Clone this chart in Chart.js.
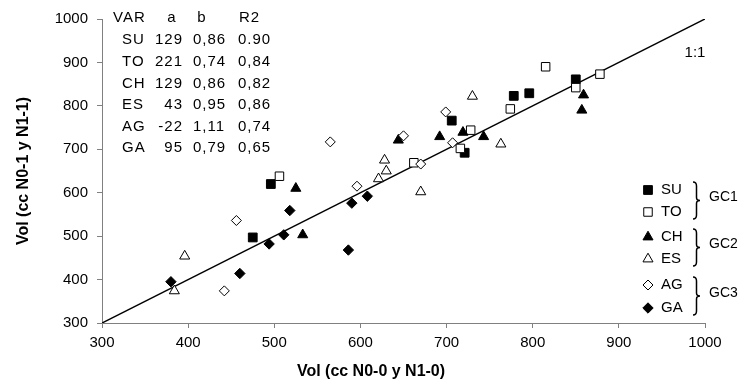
<!DOCTYPE html>
<html>
<head>
<meta charset="utf-8">
<script src="https://cdn.jsdelivr.net/npm/chart.js@4/dist/chart.umd.min.js"></script>
<style>
html,body{margin:0;padding:0;background:#fff;}
canvas{display:block;}
</style>
</head>
<body>
<canvas id="c" width="745" height="385" style="width:745px;height:385px"></canvas>
<script>
// ---------- data ----------
const categories = ['SU','TO','CH','ES','AG','GA'];
const groups = ['GC1','GC2','GC3'];
const tickValues = [300,400,500,600,700,800,900,1000];

const suX = [475,496,706,721,778,796,850];
const suY = [497,620,766,692,823,829,861];
const toX = [506,662,716,728,774,815,850,878];
const toY = [638,669,702,744,793,890,842,873];
const chX = [525,533,644,692,719,743,859,857];
const chY = [610,503,721,729,739,729,825,790];
const esX = [396,384,621,628,630,670,730,763];
const esY = [454,374,632,675,650,602,822,712];
const agX = [442,456,565,596,650,670,699,707];
const agY = [374,536,717,615,731,666,786,715];
const gaX = [380,460,494,511,518,586,590,608];
const gaY = [395,414,482,503,559,468,576,592];

const oneToOne = [300,1000];

const tableHeader = ['VAR','a','b','R2'];
const tableA  = ['129','221','129','43','-22','95'];
const tableB  = ['0,86','0,74','0,86','0,95','1,11','0,79'];
const tableR2 = ['0.90','0,84','0,82','0,86','0,74','0,65'];

const xTitle = 'Vol (cc N0-0 y N1-0)';
const yTitle = 'Vol (cc N0-1 y N1-1)';

// ---------- styles ----------
const FONT = '"Liberation Sans", Arial, sans-serif';
const seriesStyle = {
  SU:{shape:'rect',     filled:true,  r:6.2},
  TO:{shape:'rect',     filled:false, r:6.0},
  CH:{shape:'triangle', filled:true,  r:5.8},
  ES:{shape:'triangle', filled:false, r:5.8},
  AG:{shape:'rectRot',  filled:false, r:5.0},
  GA:{shape:'rectRot',  filled:true,  r:5.2}
};
const xsList = [suX,toX,chX,esX,agX,gaX];
const ysList = [suY,toY,chY,esY,agY,gaY];

function pts(xs, ys){ return xs.map((v,i)=>({x:v, y:ys[i]})); }

const datasets = categories.map((c,i)=>{
  const s = seriesStyle[c];
  return {
    type:'scatter', label:c, data:pts(xsList[i], ysList[i]),
    pointStyle:s.shape, pointRadius:s.r, pointHoverRadius:s.r,
    backgroundColor: s.filled ? '#000' : '#fff',
    borderColor:'#000', pointBorderWidth:1, borderWidth:1,
    order: categories.length - i
  };
});
datasets.push({
  type:'line', label:'1:1', data:pts(oneToOne, oneToOne),
  borderColor:'#000', borderWidth:1.5, pointRadius:0, fill:false,
  tension:0, order:20
});

function marker(ctx, shape, x, y, r, filled){
  ctx.save();
  ctx.beginPath();
  if(shape==='rect'){
    const s = Math.SQRT1_2*r; ctx.rect(x-s,y-s,2*s,2*s);
  } else if(shape==='triangle'){
    let a=0;
    ctx.moveTo(x+Math.sin(a)*r, y-Math.cos(a)*r);
    a+=2*Math.PI/3; ctx.lineTo(x+Math.sin(a)*r, y-Math.cos(a)*r);
    a+=2*Math.PI/3; ctx.lineTo(x+Math.sin(a)*r, y-Math.cos(a)*r);
    ctx.closePath();
  } else {
    ctx.moveTo(x, y-r); ctx.lineTo(x+r, y); ctx.lineTo(x, y+r); ctx.lineTo(x-r, y); ctx.closePath();
  }
  ctx.fillStyle = filled ? '#000' : '#fff';
  ctx.fill();
  ctx.lineWidth = 1; ctx.strokeStyle = '#000'; ctx.stroke();
  ctx.restore();
}

function brace(ctx, x, y1, y2){
  const m=(y1+y2)/2, w=3.5;
  ctx.save();
  ctx.beginPath();
  ctx.moveTo(x, y1);
  ctx.quadraticCurveTo(x+w, y1, x+w, y1+4);
  ctx.lineTo(x+w, m-3);
  ctx.quadraticCurveTo(x+w, m, x+2*w, m);
  ctx.quadraticCurveTo(x+w, m, x+w, m+3);
  ctx.lineTo(x+w, y2-4);
  ctx.quadraticCurveTo(x+w, y2, x, y2);
  ctx.lineWidth = 1.5; ctx.strokeStyle = '#000';
  ctx.stroke();
  ctx.restore();
}

const decor = {
  id:'decor',
  afterDraw(chart){
    const ctx = chart.ctx;
    ctx.save();
    ctx.fillStyle = '#000';
    ctx.textBaseline = 'middle';

    ctx.font = 'bold 16px ' + FONT;
    ctx.textAlign = 'center';
    ctx.fillText(xTitle, 371, 372);
    ctx.save();
    ctx.translate(24, 171);
    ctx.rotate(-Math.PI/2);
    ctx.fillText(yTitle, 0, 0);
    ctx.restore();

    ctx.font = '15px ' + FONT;
    ctx.letterSpacing = '1px';
    const rowY = [18,40,62,83.5,105,126.5,148];
    ctx.textAlign = 'left';
    ctx.fillText(tableHeader[0], 113, rowY[0]);
    ctx.textAlign = 'center';
    ctx.fillText(tableHeader[1], 172, rowY[0]);
    ctx.fillText(tableHeader[2], 202, rowY[0]);
    ctx.textAlign = 'left';
    ctx.fillText(tableHeader[3], 239, rowY[0]);
    categories.forEach((c,i)=>{
      const y = rowY[i+1];
      ctx.textAlign = 'left';
      ctx.fillText(c, 122, y);
      ctx.textAlign = 'right';
      ctx.fillText(tableA[i], 183, y);
      ctx.textAlign = 'left';
      ctx.fillText(tableB[i], 193, y);
      ctx.fillText(tableR2[i], 238, y);
    });
    ctx.letterSpacing = '0px';

    ctx.font = '15px ' + FONT;
    ctx.textAlign = 'center';
    ctx.fillText('1:1', 695, 53);

    const legY = [190,212,237,259,285,308];
    categories.forEach((c,i)=>{
      const s = seriesStyle[c];
      marker(ctx, s.shape, 648, legY[i], s.r, s.filled);
      ctx.fillStyle = '#000';
      ctx.font = '15px ' + FONT;
      ctx.textAlign = 'left';
      ctx.fillText(c, 661, legY[i]);
    });
    ctx.font = '14px ' + FONT;
    groups.forEach((g,k)=>{
      const y1 = legY[2*k]-8, y2 = legY[2*k+1]+7;
      brace(ctx, 693, y1, y2);
      ctx.fillStyle = '#000';
      ctx.textAlign = 'left';
      ctx.fillText(g, 709, (y1+y2)/2 - 3);
    });
    ctx.restore();
  }
};

const tickFmt = v => String(v);
const axisCommon = {
  type:'linear', min:300, max:1000,
  border:{color:'#808080', width:1},
  ticks:{color:'#000', font:{family:FONT, size:15}, autoSkip:false, maxRotation:0, callback:tickFmt}
};

new Chart(document.getElementById('c'), {
  data:{datasets},
  options:{
    responsive:false, animation:false, devicePixelRatio:1,
    layout:{padding:{top:19, right:40, left:0, bottom:0}},
    plugins:{legend:{display:false}, tooltip:{enabled:false}},
    scales:{
      x:Object.assign({}, axisCommon, {
        position:'bottom',
        afterBuildTicks:s=>{ s.ticks = tickValues.map(v=>({value:v})); },
        grid:{drawOnChartArea:false, drawTicks:true, tickLength:5, color:'#808080'},
        ticks:Object.assign({}, axisCommon.ticks, {padding:6}),
        afterFit:s=>{ s.height = 62; }
      }),
      y:Object.assign({}, axisCommon, {
        position:'left',
        afterBuildTicks:s=>{ s.ticks = tickValues.map(v=>({value:v})); },
        grid:{drawOnChartArea:false, drawTicks:true, tickLength:5, color:'#808080'},
        ticks:Object.assign({}, axisCommon.ticks, {padding:9}),
        afterFit:s=>{ s.width = 102; }
      })
    }
  },
  plugins:[decor]
});
</script>
</body>
</html>
